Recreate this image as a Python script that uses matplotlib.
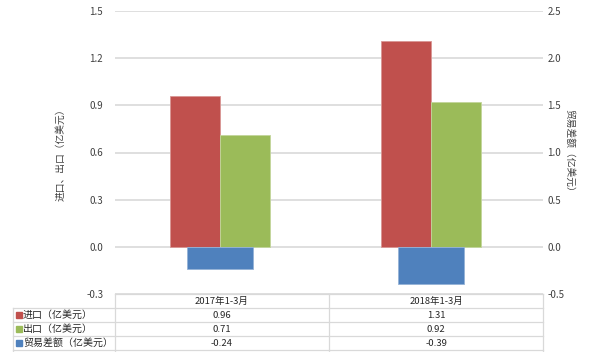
import matplotlib
matplotlib.use("Agg")
import matplotlib.pyplot as plt
from matplotlib.lines import Line2D
from matplotlib.patches import Rectangle

plt.rcParams['font.family'] = ['Noto Sans CJK SC', 'DejaVu Sans']

# data
categories = ['2017年1-3月', '2018年1-3月']
imports = [0.96, 1.31]
exports = [0.71, 0.92]
balance = [-0.24, -0.39]
series_names = ['进口（亿美元）', '出口（亿美元）', '贸易差额（亿美元）']
left_ticks = [-0.3, 0.0, 0.3, 0.6, 0.9, 1.2, 1.5]
right_ticks = [-0.5, 0.0, 0.5, 1.0, 1.5, 2.0, 2.5]

red = '#c0504d'
green = '#9bbb59'
blue = '#4f81bd'
grid_c = '#d9d9d9'
txt_c = '#404040'

W, H = 589, 352
fig = plt.figure(figsize=(W / 100, H / 100), dpi=100)

x0, x1 = 115, 543
y_top, y_bot = 11, 294
ax = fig.add_axes([x0 / W, 1 - y_bot / H, (x1 - x0) / W, (y_bot - y_top) / H])
ax2 = ax.twinx()

xs = list(range(len(categories)))
step = 211.0  # pixels between category centres
bw = 50 / step
ax.bar([x - bw / 2 for x in xs], imports, bw, color=red, edgecolor='#d99694', linewidth=0.6, zorder=3)
ax.bar([x + bw / 2 for x in xs], exports, bw, color=green, edgecolor='#c3d69b', linewidth=0.6, zorder=3)
ax2.bar(xs, balance, 66 / step, color=blue, edgecolor='#95b3d7', linewidth=0.6, zorder=3)

xmin = -(220 - x0) / step
ax.set_xlim(xmin, xmin + (x1 - x0) / step)
ax.set_ylim(-0.3, 1.5)
ax2.set_ylim(-0.5, 2.5)
ax.set_yticks(left_ticks)
ax.set_yticklabels([f'{t:.1f}' for t in left_ticks])
ax2.set_yticks(right_ticks)
ax2.set_yticklabels([f'{t:.1f}' for t in right_ticks])
ax.set_xticks([])
for a in (ax, ax2):
    for s in a.spines.values():
        s.set_visible(False)
ax.tick_params(axis='y', length=0, labelsize=7, colors=txt_c, pad=8.5)
ax2.tick_params(axis='y', length=0, labelsize=7, colors=txt_c, pad=3)
ax.yaxis.grid(True, color=grid_c, linewidth=1.2, zorder=0)
ax.set_axisbelow(True)

ax.set_ylabel('进口、出口（亿美元）', fontsize=7, color=txt_c, va='center')
ax.yaxis.set_label_coords((60 - x0) / (x1 - x0), 0.5)
ax2.set_ylabel('贸易差额（亿美元）', fontsize=7, color=txt_c, rotation=270, va='center')
ax2.yaxis.set_label_coords((569 - x0) / (x1 - x0), 0.5)

# data table under the plot
def fx(px):
    return px / W

def fy(py):
    return 1 - py / H

rows_y = [294, 308, 322, 336, 350]
col_x = [13, 115, 329, 543]
line_kw = dict(color=grid_c, linewidth=0.9, transform=fig.transFigure)
fig.add_artist(Line2D([fx(115), fx(543)], [fy(294), fy(294)], **line_kw))
for yy in rows_y[1:]:
    fig.add_artist(Line2D([fx(13), fx(543)], [fy(yy), fy(yy)], **line_kw))
fig.add_artist(Line2D([fx(13), fx(13)], [fy(308), fy(352)], **line_kw))
for xx in col_x[1:]:
    fig.add_artist(Line2D([fx(xx), fx(xx)], [fy(294), fy(352)], **line_kw))

for i, c in enumerate(categories):
    cx = (col_x[i + 1] + col_x[i + 2]) / 2
    fig.text(fx(cx), fy(301.5), c, fontsize=6.8, color='#262626', ha='center', va='center')

colors = [red, green, blue]
values = [imports, exports, balance]
for r, (name, col, vals) in enumerate(zip(series_names, colors, values)):
    cy = (rows_y[r + 1] + rows_y[r + 2]) / 2
    fig.add_artist(Rectangle((fx(16), fy(cy + 2.8)), 5.5 / W, 5.5 / H, color=col,
                             transform=fig.transFigure))
    fig.text(fx(23), fy(cy), name, fontsize=7.2, color='#262626', ha='left', va='center')
    for i, v in enumerate(vals):
        cx = (col_x[i + 1] + col_x[i + 2]) / 2
        fig.text(fx(cx), fy(cy), f'{v:.2f}', fontsize=6.8, color='#262626', ha='center', va='center')

fig.savefig('out.png', dpi=100)
